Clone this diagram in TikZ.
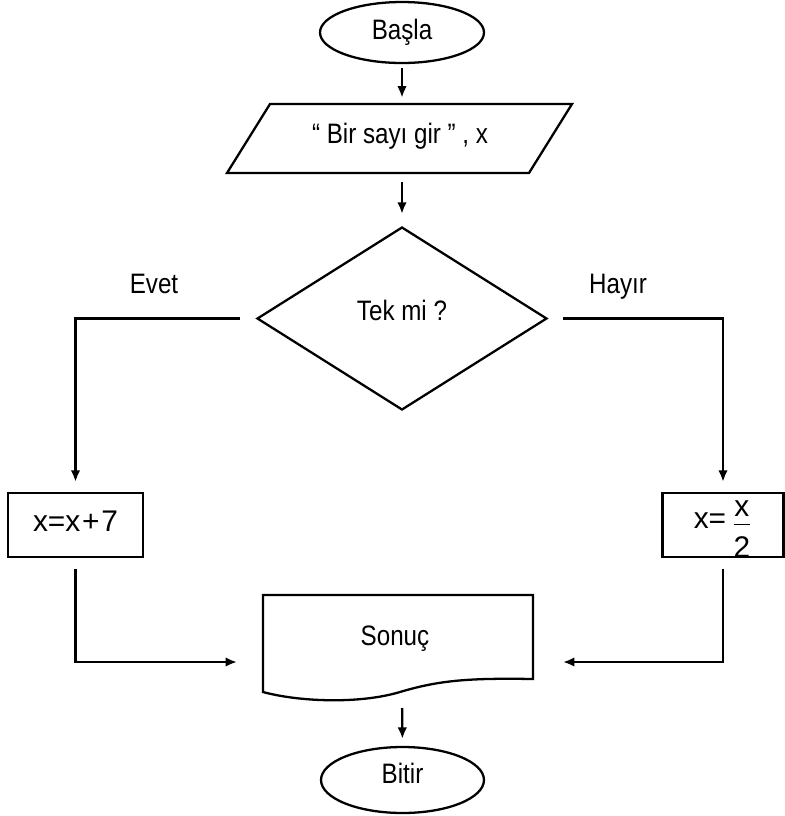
\documentclass[tikz,border=0pt]{standalone}
\usepackage{fontspec}
\setmainfont{Liberation Sans}[FakeStretch=0.86]
\newfontfamily\boxfont{Liberation Sans}
\usetikzlibrary{shapes.geometric,arrows.meta}
\begin{document}
\begin{tikzpicture}[x=0.02cm,y=-0.02cm,
  lw/.style={line width=1.3pt},
  txt/.style={font=\fontsize{16}{19}\selectfont},
  shp/.style={draw,lw,inner sep=0pt,txt},
  boxtxt/.style={font=\boxfont\fontsize{17}{20}\selectfont},
  arr/.style={lw,-{Latex[length=6.5pt,width=5.4pt]}},
  lbl/.style={txt,inner sep=0pt,anchor=base}]
\fill[white] (0,0) rectangle (785,816);
\useasboundingbox (0,0) rectangle (785,816);
% shapes
\node[shp,ellipse,minimum width=3.28cm,minimum height=1.22cm,text height=11.5pt,text depth=3pt] (start) at (402,32.5) {Başla};
\node[txt,inner sep=0pt,minimum height=1.38cm,text height=11.5pt,text depth=6.06pt] (inp) at (400,138.5) {“ Bir sayı gir ” , x};
\draw[lw] (270,104) -- (572,104) -- (529,173) -- (227,173) -- cycle;
\node[shp,diamond,minimum width=5.8cm,minimum height=3.66cm,text height=11.5pt,text depth=9.8pt] (dec) at (402,318.5) {Tek mi ?};
\node[shp,boxtxt,minimum width=2.7cm,minimum height=1.28cm,text height=12pt,text depth=4.1pt] (lbox) at (75.5,525) {x=x\kern1pt+\kern1pt7};
\node[shp,boxtxt,minimum width=2.42cm,minimum height=1.28cm,text height=17.5pt,text depth=10.14pt] (rbox) at (723,525) {\raisebox{1.5pt}{x=}\kern3pt$\frac{\mbox{x\rule[-3.5pt]{0pt}{1pt}}}{\mbox{\rule{0pt}{18.4pt}2}}$};
\draw[lw] (263,595) -- (533,595) -- (533,679)
  .. controls (470,678) and (440,680) .. (400,692)
  .. controls (360,704) and (300,702) .. (263,692) -- cycle;
\node[lbl] (doctext) at (395,645) {Sonuç};
\coordinate (docL) at (263,662);
\coordinate (docR) at (533,662);
\coordinate (docB) at (402,695);
\node[shp,ellipse,minimum width=3.26cm,minimum height=1.32cm,text height=11.5pt,text depth=7pt] (end) at (402.5,780) {Bitir};
% labels
\node[lbl] (evet) at (154,293) {Evet};
\node[lbl] (hayir) at (618,293) {Hayır};
% connectors
\draw[arr,shorten <=0.08cm,shorten >=0.12cm] (start.south) -- (start.south |- inp.north);
\draw[arr,shorten <=0.18cm,shorten >=0.24cm] (inp.south -| dec.north) -- (dec.north);
\draw[arr,shorten <=0.32cm,shorten >=0.2cm] (dec.west) -| (lbox.north);
\draw[arr,shorten <=0.3cm,shorten >=0.2cm] (dec.east) -| (rbox.north);
\draw[arr,shorten <=0.22cm,shorten >=0.52cm] (lbox.south) |- (docL);
\draw[arr,shorten <=0.22cm,shorten >=0.6cm] (rbox.south) |- (docR);
\draw[arr,shorten <=0.26cm,shorten >=0.14cm] (docB) -- (end.north);
\end{tikzpicture}
\end{document}
